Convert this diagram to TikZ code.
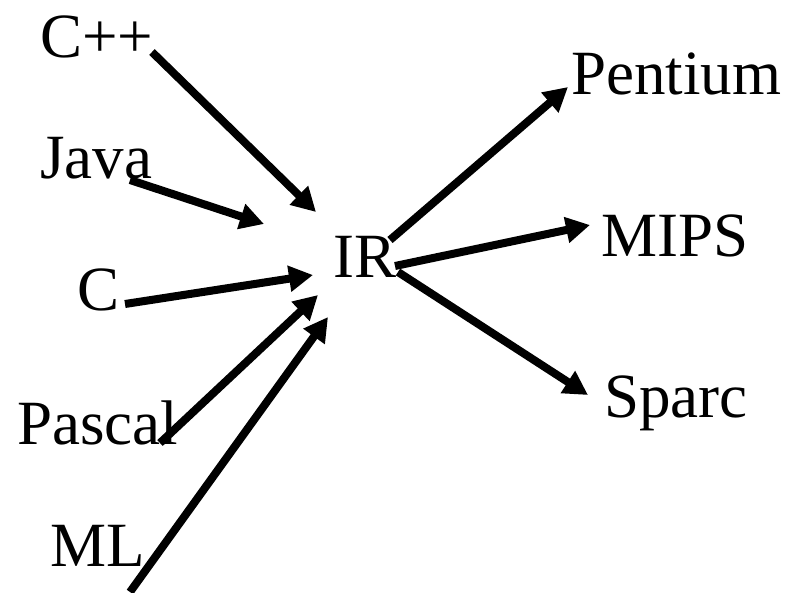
\documentclass[tikz,border=0pt]{standalone}
\usepackage{fontspec}
\setmainfont{Liberation Serif}
\usetikzlibrary{arrows.meta}
\begin{document}
\begin{tikzpicture}[x=1pt,y=-1pt,
  lbl/.style={anchor=base west,inner sep=0pt,font=\fontsize{63}{63}\selectfont},
  arr/.style={line width=8pt,-{Triangle[length=24pt,width=25pt]}}]
\useasboundingbox (0,0) rectangle (794,592);
% labels
\node[lbl] (cpp) at (40,57) {C++};
\node[lbl] (java) at (40,178) {Java};
\node[lbl] (c) at (77,310) {C};
\node[lbl] (pascal) at (17,444) {Pascal};
\node[lbl] (ml) at (50,566) {ML};
\node[lbl] (ir) at (333,277) {IR};
\node[lbl] (pentium) at (571,94) {Pentium};
\node[lbl] (mips) at (601,256) {MIPS};
\node[lbl] (sparc) at (604,417) {Sparc};
% arrow ends
\coordinate (s1) at (152,52);  \coordinate (e1) at (316,212);
\coordinate (s2) at (130,180); \coordinate (e2) at (264,224);
\coordinate (s3) at (125,304); \coordinate (e3) at (313,275);
\coordinate (s4) at (160,443); \coordinate (e4) at (318,295);
\coordinate (s5) at (130,592); \coordinate (e5) at (328,317);
\coordinate (s6) at (390,240); \coordinate (e6) at (568,87);
\coordinate (s7) at (395,266); \coordinate (e7) at (590,225);
\coordinate (s8) at (398,272); \coordinate (e8) at (588,395);
\draw[arr] (s1) -- (e1);
\draw[arr] (s2) -- (e2);
\draw[arr] (s3) -- (e3);
\draw[arr] (s4) -- (e4);
\draw[arr] (s5) -- (e5);
\draw[arr] (s6) -- (e6);
\draw[arr] (s7) -- (e7);
\draw[arr] (s8) -- (e8);
\end{tikzpicture}
\end{document}
